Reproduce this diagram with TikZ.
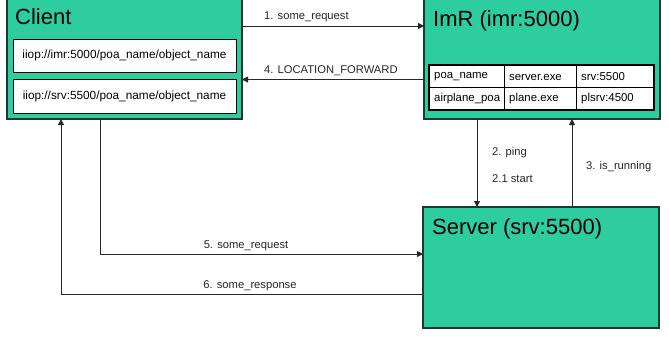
\documentclass[tikz,border=0pt]{standalone}
\usepackage{fontspec}
\setmainfont{Liberation Sans}
\usetikzlibrary{arrows.meta}
\definecolor{boxfill}{HTML}{2DCDA0}
\definecolor{boxline}{HTML}{1E3A30}
\tikzset{
  bigbox/.style={draw=boxline, line width=1.1pt, fill=boxfill},
  whitebox/.style={draw=black, line width=0.8pt, fill=white},
  title/.style={anchor=base west, inner sep=0pt, font=\fontsize{22}{24}\selectfont},
  small/.style={inner sep=0pt, font=\fontsize{11.8}{13}\selectfont},
  cell/.style={inner sep=0pt, anchor=west, font=\fontsize{11.4}{13}\selectfont},
  lbl/.style={inner sep=0pt, font=\fontsize{11.2}{13}\selectfont, text=black!85},
  conn/.style={draw=black!85, line width=0.8pt, -{Triangle[length=6pt,width=6pt]}},
}
\begin{document}
\begin{tikzpicture}[x=1pt,y=-1pt]
\useasboundingbox (0,0) rectangle (669,337);
% Client
\draw[bigbox] (7,-2) rectangle (242,119);
\node[title] (ctitle) at (15,25) {Client};
\draw[whitebox] (13,39) rectangle (236,72);
\draw[whitebox] (13,79) rectangle (236,113);
\node[small] (u1) at (124.5,55.5) {iiop://imr:5000/poa\_name/object\_name};
\node[small] (u2) at (124.5,96) {iiop://srv:5500/poa\_name/object\_name};
% ImR
\draw[bigbox] (424,-2) rectangle (660,119);
\node[title] (ititle) at (433,27) {ImR (imr:5000)};
\draw[fill=white, line width=0.6pt] (429,65) rectangle (654,110);
\draw[line width=0.6pt] (429,87) -- (654,87) (504,65) -- (504,110) (576,65) -- (576,110);
\draw[line width=2.2pt] (429,65) rectangle (654,110);
\node[cell] (t11) at (434,77) {poa\_name};
\node[cell] (t12) at (509,77) {server.exe};
\node[cell] (t13) at (581,77) {srv:5500};
\node[cell] (t21) at (434,99) {airplane\_poa};
\node[cell] (t22) at (509,99) {plane.exe};
\node[cell] (t23) at (581,99) {plsrv:4500};
% Server
\draw[bigbox] (423,207) rectangle (659,328);
\node[title] (stitle) at (432,234) {Server (srv:5500)};
% coordinates for connectors
\coordinate (c1a) at (242,26); \coordinate (c1b) at (424,26);
\coordinate (c4a) at (424,79.5); \coordinate (c4b) at (242,79.5);
\coordinate (c2a) at (477,119); \coordinate (c2b) at (477,207);
\coordinate (c3a) at (572,207); \coordinate (c3b) at (572,119);
\coordinate (c5a) at (100,119); \coordinate (c5b) at (423,254);
\coordinate (c6a) at (423,294); \coordinate (c6b) at (61,119);
\draw[conn] (c1a) -- (c1b);
\draw[conn] (c4a) -- (c4b);
\draw[conn] (c2a) -- (c2b);
\draw[conn] (c3a) -- (c3b);
\draw[conn] (c5a) |- (c5b);
\draw[conn] (c6a) -| (c6b);
\node[lbl, anchor=base west] (l1) at (264,20) {1. some\_request};
\node[lbl, anchor=base west] (l4) at (264,74) {4. LOCATION\_FORWARD};
\node[lbl, anchor=base west] (l2) at (492,155) {2. ping};
\node[lbl, anchor=base west] (l21) at (492,182) {2.1 start};
\node[lbl, anchor=base west] (l3) at (586,169) {3. is\_running};
\node[lbl, anchor=base] (l5) at (246,248) {5. some\_request};
\node[lbl, anchor=base] (l6) at (250,288) {6. some\_response};
\end{tikzpicture}
\end{document}
